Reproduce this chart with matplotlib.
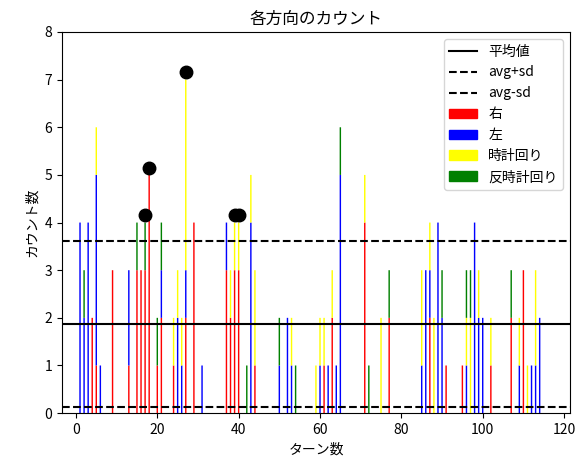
import numpy as np
import matplotlib
matplotlib.use("Agg")
import matplotlib.pyplot as plt
import matplotlib.patches as mpatches
from matplotlib.lines import Line2D

plt.rcParams['font.family'] = ['Noto Sans CJK JP', 'DejaVu Sans']

# turn numbers that have any count
turns = [1, 2, 3, 4, 5, 6, 9, 13, 15, 16, 17, 18, 20, 21, 24, 25, 26, 27, 29, 31,
         37, 38, 39, 40, 42, 43, 44, 50, 52, 53, 54, 59, 60, 61, 62, 63, 64, 65,
         71, 72, 75, 77, 85, 86, 87, 88, 89, 90, 91, 95, 96, 97, 98, 99, 100,
         102, 107, 109, 110, 111, 112, 113, 114]

right = [0, 0, 0, 2, 1, 0, 3, 1, 3, 3, 3, 5, 1, 2, 1, 0, 0, 2, 4, 0,
         3, 2, 3, 3, 0, 0, 1, 0, 0, 0, 0, 0, 0, 1, 0, 2, 0, 0,
         4, 0, 0, 2, 0, 0, 2, 0, 0, 0, 1, 1, 0, 0, 0, 0, 0,
         1, 2, 0, 3, 0, 0, 0, 0]
left = [4, 2, 4, 0, 4, 1, 0, 2, 0, 0, 0, 0, 0, 1, 0, 2, 1, 1, 0, 1,
        1, 0, 0, 0, 0, 4, 0, 1, 2, 1, 0, 0, 1, 0, 1, 0, 1, 5,
        0, 0, 0, 0, 1, 3, 1, 0, 4, 2, 0, 0, 1, 0, 4, 2, 2,
        0, 0, 1, 0, 0, 1, 1, 2]
clockwise = [0, 0, 0, 0, 1, 0, 0, 0, 0, 0, 0, 0, 0, 0, 1, 1, 1, 4, 0, 0,
             0, 1, 1, 1, 0, 1, 2, 0, 0, 1, 0, 1, 1, 1, 0, 1, 0, 0,
             1, 0, 2, 0, 2, 0, 1, 2, 0, 0, 0, 0, 1, 2, 0, 1, 0,
             1, 0, 1, 0, 1, 0, 2, 0]
counter = [0, 1, 0, 0, 0, 0, 0, 0, 1, 0, 1, 0, 1, 1, 0, 0, 0, 0, 0, 0,
           0, 0, 0, 0, 1, 0, 0, 1, 0, 0, 1, 0, 0, 0, 0, 0, 0, 1,
           0, 1, 0, 1, 0, 0, 0, 0, 0, 1, 0, 0, 1, 1, 0, 0, 0,
           0, 1, 0, 0, 0, 0, 0, 0]

# highlighted turns
dot_x = [17, 18, 27, 39, 40]
dot_y = [4.15, 5.15, 7.15, 4.15, 4.15]

avg = 1.87
sd = 1.74

fig = plt.figure(figsize=(5.86, 4.57), dpi=100)
ax = fig.add_axes([0.106, 0.096, 0.867, 0.834])

r = np.array(right)
b = np.array(left)
y = np.array(clockwise)
g = np.array(counter)
w = 0.35
kw = dict(width=w, linewidth=0, snap=False)
ax.bar(turns, r, color="red", **kw)
ax.bar(turns, b, bottom=r, color="blue", **kw)
ax.bar(turns, y, bottom=r + b, color="yellow", **kw)
ax.bar(turns, g, bottom=r + b + y, color="green", **kw)

ax.axhline(avg, color="black", linewidth=1.5)
ax.axhline(avg + sd, color="black", linestyle="--", linewidth=1.5)
ax.axhline(avg - sd, color="black", linestyle="--", linewidth=1.5)

ax.plot(dot_x, dot_y, "o", color="black", markersize=9)

ax.set_xlim(-3.4, 121.5)
ax.set_ylim(0, 8)
ax.set_xticks([0, 20, 40, 60, 80, 100, 120])
ax.set_title("各方向のカウント")
ax.set_xlabel("ターン数")
ax.set_ylabel("カウント数")

handles = [
    Line2D([0], [0], color="black", linewidth=1.5, label="平均値"),
    Line2D([0], [0], color="black", linestyle="--", linewidth=1.5, label="avg+sd"),
    Line2D([0], [0], color="black", linestyle="--", linewidth=1.5, label="avg-sd"),
    mpatches.Patch(color="red", label="右"),
    mpatches.Patch(color="blue", label="左"),
    mpatches.Patch(color="yellow", label="時計回り"),
    mpatches.Patch(color="green", label="反時計回り"),
]
ax.legend(handles=handles, loc="upper right")

fig.savefig("out.png", dpi=100)
